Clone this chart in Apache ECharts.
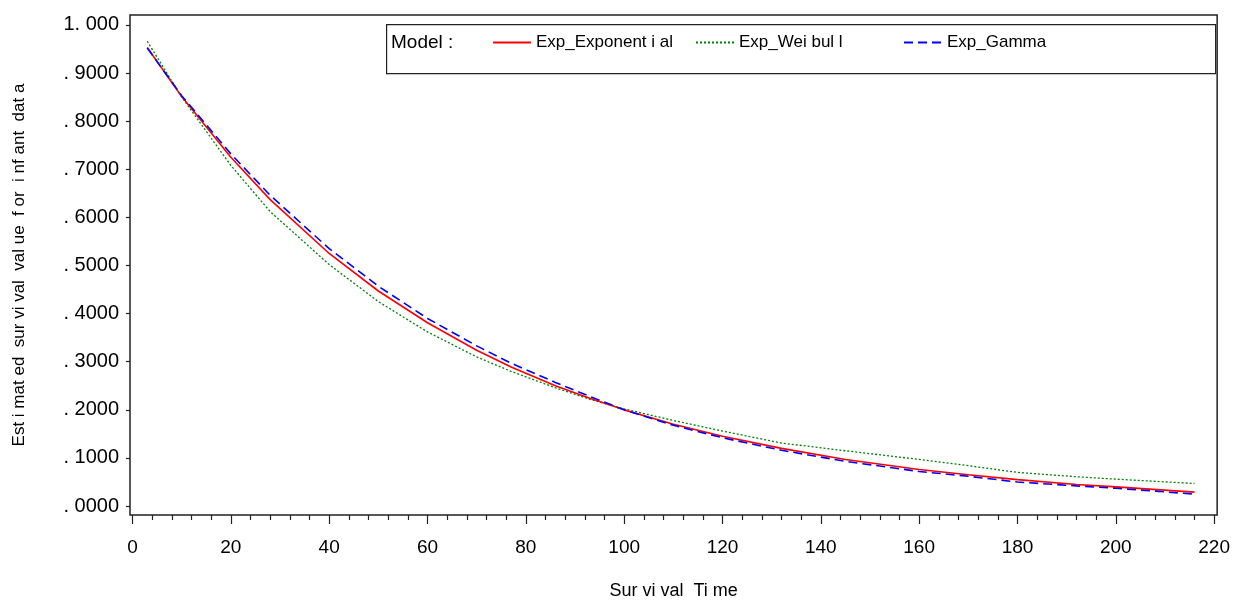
<!DOCTYPE html>
<html>
<head>
<meta charset="utf-8">
<title>Estimated survival value for infant data</title>
<script src="https://cdn.jsdelivr.net/npm/echarts@6/dist/echarts.min.js"></script>
<style>
  html, body { margin: 0; padding: 0; background: #fff; }
  #chart { width: 1233px; height: 605px; }
</style>
</head>
<body>
<div id="chart"></div>
<script>
// survival times (x) where the fitted curves are evaluated
const survivalTime = [3, 10, 20, 28, 40, 50, 60, 70, 77, 86, 93, 100, 110, 120, 132, 145, 160, 170, 180, 192, 200, 216];
// estimated survival per model
const expExponential = [0.953, 0.851, 0.725, 0.637, 0.525, 0.447, 0.381, 0.324, 0.289, 0.250, 0.224, 0.200, 0.170, 0.145, 0.120, 0.097, 0.076, 0.065, 0.055, 0.045, 0.040, 0.029];
const expWeibull = [0.966, 0.850, 0.708, 0.612, 0.502, 0.425, 0.362, 0.310, 0.280, 0.246, 0.222, 0.202, 0.178, 0.156, 0.131, 0.115, 0.097, 0.084, 0.070, 0.061, 0.056, 0.047];
const expGamma = [0.952, 0.853, 0.732, 0.646, 0.535, 0.457, 0.390, 0.333, 0.297, 0.257, 0.228, 0.200, 0.168, 0.142, 0.116, 0.093, 0.072, 0.062, 0.050, 0.042, 0.037, 0.025];

// axis ticks and labels
const xTicks = [0, 20, 40, 60, 80, 100, 120, 140, 160, 180, 200, 220];
const xMinorTicks = [4, 8, 12, 16, 24, 28, 32, 36, 44, 48, 52, 56, 64, 68, 72, 76, 84, 88, 92, 96,
  104, 108, 112, 116, 124, 128, 132, 136, 144, 148, 152, 156, 164, 168, 172, 176, 184, 188, 192, 196,
  204, 208, 212, 216];
const yTicks = [0, 0.1, 0.2, 0.3, 0.4, 0.5, 0.6, 0.7, 0.8, 0.9, 1];
const yTickLabels = ['. 0000', '. 1000', '. 2000', '. 3000', '. 4000', '. 5000', '. 6000', '. 7000', '. 8000', '. 9000', '1. 000'];

const seriesNames = ['Exp_Exponent i al', 'Exp_Wei bul l', 'Exp_Gamma'];

const font = '"Liberation Sans", Arial, sans-serif';
const ink = '#222';

const chart = echarts.init(document.getElementById('chart'), null, { renderer: 'canvas' });

// zip x with y for a value/value line
function pairs (ys) {
  return survivalTime.map((t, i) => [t, ys[i]]);
}

// one legend per entry so each can sit where the original puts it
function legendAt (name, left) {
  return {
    data: [name],
    left: left,
    top: 34,
    padding: 0,
    itemWidth: 38,
    itemHeight: 10,
    itemGap: 0,
    selectedMode: false,
    itemStyle: { opacity: 0 }, // hide the dot, keep the line sample
    textStyle: { fontFamily: font, fontSize: 17, color: '#000' }
  };
}

const xCommon = {
  type: 'value',
  min: -0.51,
  max: 220.61,
  position: 'bottom',
  axisLine: { show: false, onZero: false },
  splitLine: { show: false }
};

const option = {
  animation: false,
  backgroundColor: '#fff',
  grid: {
    left: 130,
    right: 13,
    top: 15,
    bottom: 85,
    show: true,
    borderColor: ink,
    borderWidth: 1.5
  },
  legend: [
    legendAt(seriesNames[0], 492),
    legendAt(seriesNames[1], 695),
    legendAt(seriesNames[2], 903)
  ],
  graphic: [
    // legend frame
    {
      type: 'rect',
      left: 386,
      top: 24,
      shape: { width: 829, height: 49 },
      style: { fill: 'transparent', stroke: ink, lineWidth: 1.2 },
      z: 10
    },
    {
      type: 'text',
      left: 391,
      top: 33,
      style: { text: 'Model :', fontFamily: font, fontSize: 19, fill: '#000' },
      z: 10
    }
  ],
  xAxis: [
    Object.assign({}, xCommon, {
      name: 'Sur vi val  Ti me',
      nameLocation: 'middle',
      nameGap: 67,
      nameTextStyle: { fontFamily: font, fontSize: 18, color: '#000' },
      axisTick: { show: true, length: 9, customValues: xTicks, lineStyle: { color: ink, width: 1.2 } },
      axisLabel: { customValues: xTicks, margin: 23, fontFamily: font, fontSize: 19, color: '#000' }
    }),
    // minor ticks every 4 units
    Object.assign({}, xCommon, {
      axisTick: { show: true, length: 5, customValues: xMinorTicks, lineStyle: { color: ink, width: 1.2 } },
      axisLabel: { show: false }
    })
  ],
  yAxis: {
    type: 'value',
    min: -0.0185,
    max: 1.0206,
    axisLine: { show: false, onZero: false },
    splitLine: { show: false },
    name: 'Est i mat ed  sur vi val  val ue  f or  i nf ant  dat a',
    nameLocation: 'middle',
    nameRotate: 90,
    nameGap: 102,
    nameTextStyle: { fontFamily: font, fontSize: 17, color: '#000' },
    axisTick: { show: true, length: 4, customValues: yTicks, lineStyle: { color: ink, width: 1.2 } },
    axisLabel: {
      customValues: yTicks,
      margin: 11,
      fontFamily: font,
      fontSize: 20,
      color: '#000',
      formatter: v => yTickLabels[Math.round(v * 10)]
    }
  },
  series: [
    {
      name: seriesNames[0],
      type: 'line',
      data: pairs(expExponential),
      symbol: 'none',
      lineStyle: { color: '#ff0000', width: 1.6, type: 'solid' },
      itemStyle: { color: '#ff0000' },
      z: 3
    },
    {
      name: seriesNames[1],
      type: 'line',
      data: pairs(expWeibull),
      symbol: 'none',
      lineStyle: { color: '#008000', width: 1.3, type: [2, 2] },
      itemStyle: { color: '#008000' },
      z: 2
    },
    {
      name: seriesNames[2],
      type: 'line',
      data: pairs(expGamma),
      symbol: 'none',
      lineStyle: { color: '#0000ff', width: 1.6, type: [9, 5] },
      itemStyle: { color: '#0000ff' },
      z: 4
    }
  ]
};

chart.setOption(option);
</script>
</body>
</html>
